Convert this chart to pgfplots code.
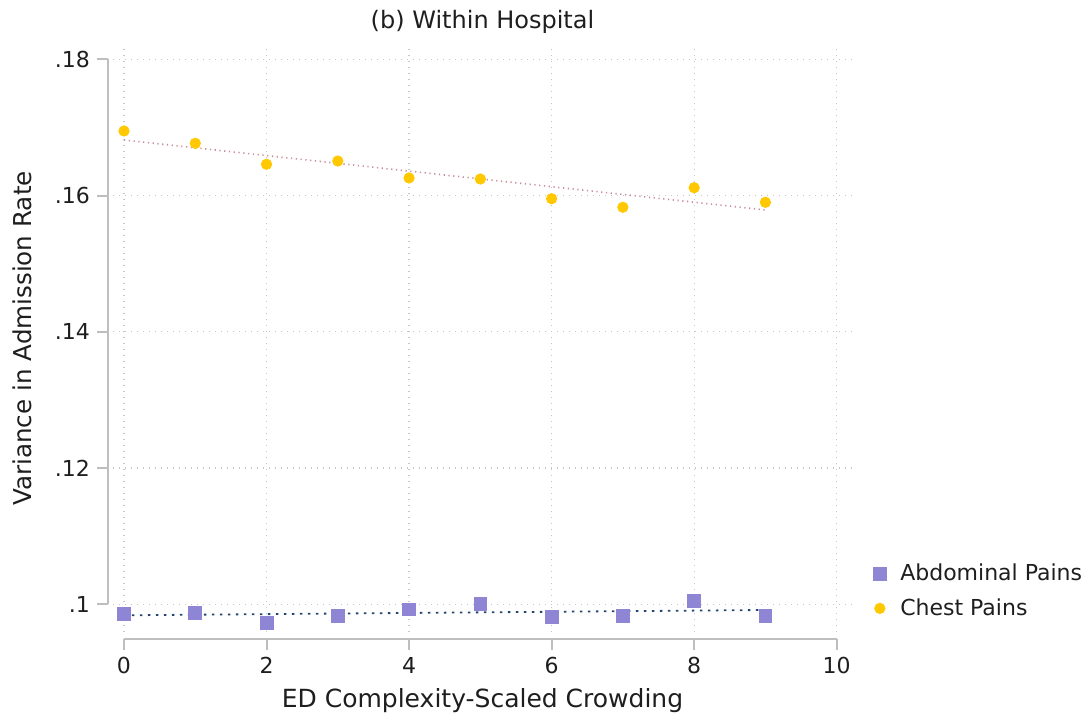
\documentclass[border=0pt]{standalone}
\usepackage{pgfplots}
\pgfplotsset{compat=1.18}
\usepackage{fontspec}
\setmainfont{DejaVu Sans}
\definecolor{abd}{RGB}{142,134,212}
\definecolor{chest}{RGB}{255,200,0}
\definecolor{abdfit}{RGB}{30,70,110}
\definecolor{chestfit}{RGB}{200,140,150}
\definecolor{txt}{RGB}{30,30,30}
\definecolor{spine}{RGB}{190,190,190}
\pgfplotstableread{
x y
0 0.098576
1 0.098679
2 0.097299
3 0.098283
4 0.099266
5 0.100044
6 0.098092
7 0.098327
8 0.100484
9 0.098283
}\abdtab
\pgfplotstableread{
x y
0 0.16948
1 0.16767
2 0.16459
3 0.16507
4 0.16258
5 0.16243
6 0.15954
7 0.15828
8 0.16115
9 0.15901
}\chesttab
\begin{document}
\begin{tikzpicture}[x=1pt,y=1pt]
\path[use as bounding box] (0,0) rectangle (544.5,359.5);
\begin{axis}[
  at={(56.5pt,43.5pt)}, anchor=south west,
  scale only axis, width=369.5pt, height=293.5pt,
  xmin=-0.1543, xmax=10.215, ymin=0.095934, ymax=0.1821,
  clip=false,
  axis line style={draw=none},
  xtick pos=bottom, ytick pos=left,
  xtick={0,2,4,6,8,10}, xticklabels={0,2,4,6,8,10},
  ytick={0.1,0.12,0.14,0.16,0.18}, yticklabels={.1,.12,.14,.16,.18},
  scaled y ticks=false,
  /pgf/number format/assume math mode=true,
  grid=major,
  major grid style={color=gray!45, line width=0.6pt, dash pattern=on 0.6pt off 2.4pt},
  tick align=outside, major tick length=5.5pt,
  every tick/.style={color=spine, line width=1pt},
  xtick style={yshift=-3.5pt}, ytick style={xshift=-2.5pt},
  ticklabel style={font=\fontsize{11}{13}\selectfont, text=txt},
  xticklabel style={yshift=-3.5pt},
  yticklabel style={xshift=-2.5pt},
  every axis title/.style={at={(0.5,1.0392)}, anchor=center, font=\fontsize{12}{14}\selectfont, text=txt},
  title={(b) Within Hospital},
  xlabel={ED Complexity-Scaled Crowding},
  xlabel style={font=\fontsize{12.5}{14}\selectfont, text=txt, at={(axis description cs:0.5,-0.1175)}, anchor=center},
  ylabel={Variance in Admission Rate},
  ylabel style={font=\fontsize{12.3}{14}\selectfont, text=txt, at={(axis description cs:-0.1231,0.5)}, anchor=center, rotate=0},
  legend style={draw=none, fill=none, inner sep=0pt, at={(axis description cs:1.0285,0.0698)}, anchor=west,
    font=\fontsize{11}{13}\selectfont, text=txt, row sep=3.5pt,
    nodes={inner sep=2pt},
    /tikz/every odd column/.append style={column sep=5pt}},
  legend cell align=left,
  legend image code/.code={\draw[mark repeat=2,mark phase=2,#1] plot coordinates {(0pt,0pt)(5pt,0pt)(10pt,0pt)};},
]
\draw[spine, line width=1pt] (axis cs:-0.2245,0.1) -- (axis cs:-0.2245,0.18);
\draw[spine, line width=1pt] (axis cs:0,0.094906) -- (axis cs:10,0.094906);
\addplot[forget plot, chestfit, line width=0.8pt, dash pattern=on 0.6pt off 1.8pt] coordinates {(0,0.16815) (9,0.15788)};
\addplot[forget plot, abdfit, line width=0.9pt, dash pattern=on 1.2pt off 2.8pt] coordinates {(0,0.098385) (9,0.099163)};
\addplot[only marks, mark=square*, mark size=3.2pt, color=abd, mark options={draw=abd, fill=abd}] table[x=x,y=y] {\abdtab};
\addlegendentry{Abdominal Pains}
\addplot[only marks, mark=*, mark size=2.6pt, color=chest, mark options={draw=chest, fill=chest}] table[x=x,y=y] {\chesttab};
\addlegendentry{Chest Pains}
\end{axis}
\end{tikzpicture}
\end{document}
